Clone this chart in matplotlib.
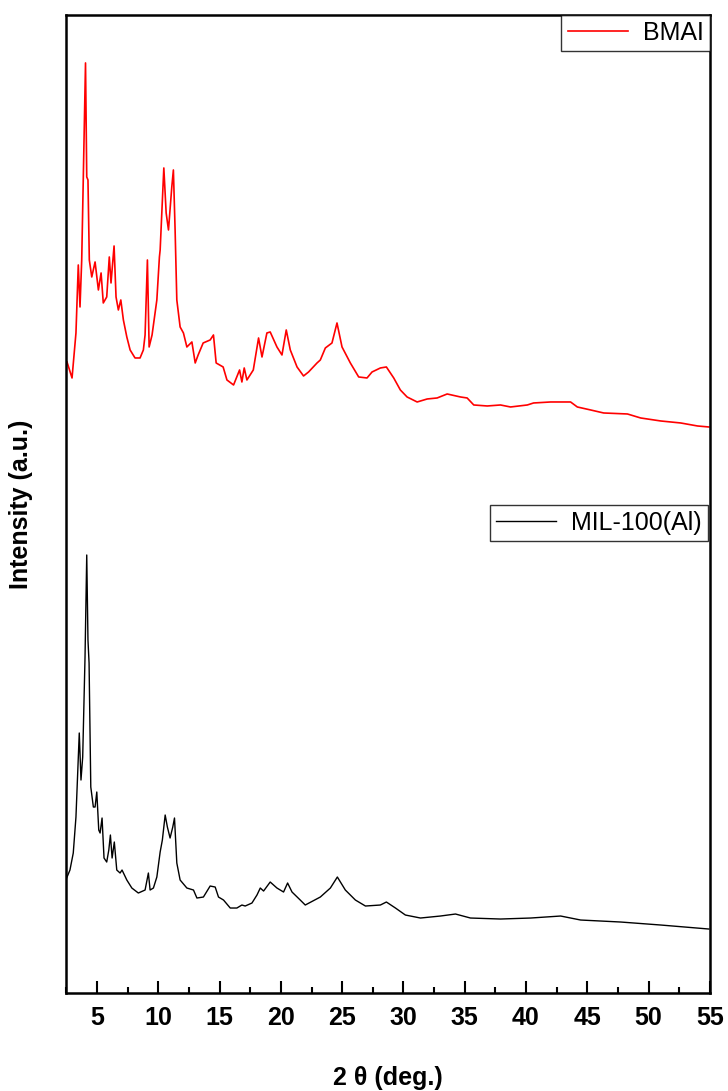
import matplotlib
matplotlib.use("Agg")
import matplotlib.pyplot as plt
from matplotlib.ticker import MultipleLocator

plt.rcParams['font.family'] = ['Liberation Sans', 'DejaVu Sans']

# BMAI pattern (stacked on top, a.u.)
bmai_2theta = [2.55, 2.96, 3.28, 3.47, 3.61, 3.75, 4.06, 4.16, 4.26, 4.37, 4.57, 4.84,
               5.11, 5.33, 5.51, 5.79, 6.00, 6.14, 6.39, 6.55, 6.74, 6.94, 7.15, 7.43,
               7.70, 8.10, 8.51, 8.78, 8.92, 9.11, 9.25, 9.49, 9.88, 10.09, 10.15, 10.45,
               10.64, 10.83, 11.10, 11.23, 11.37, 11.51, 11.78, 12.05, 12.33, 12.74, 13.01,
               13.25, 13.66, 14.23, 14.50, 14.72, 15.29, 15.60, 16.14, 16.63, 16.82, 17.01,
               17.23, 17.75, 18.18, 18.46, 18.86, 19.13, 19.68, 20.09, 20.44, 20.77, 21.32,
               21.85, 22.26, 22.95, 23.22, 23.63, 24.17, 24.58, 24.99, 25.67, 26.35, 27.03,
               27.44, 28.12, 28.61, 29.21, 29.75, 30.30, 31.12, 31.94, 32.75, 33.57, 34.66,
               35.20, 35.74, 36.84, 37.92, 38.74, 40.11, 40.62, 42.01, 42.83, 43.64, 44.19,
               45.28, 46.34, 48.28, 49.36, 51.00, 52.63, 54.00, 54.92]
bmai_int = [631, 615, 660, 728, 686, 733, 930, 816, 813, 733, 716, 731,
            703, 720, 690, 696, 736, 710, 747, 696, 683, 693, 673, 656,
            643, 635, 635, 643, 658, 733, 646, 658, 693, 736, 743, 825,
            780, 763, 806, 823, 763, 693, 666, 660, 646, 651, 630,
            638, 650, 653, 658, 630, 626, 613, 608, 623, 611, 625,
            613, 623, 655, 636, 660, 661, 646, 638, 663, 643, 626,
            617, 621, 630, 633, 645, 650, 670, 646, 630, 616, 615,
            621, 625, 626, 615, 603, 596, 591, 594, 595, 599, 596,
            595, 588, 587, 588, 586, 588, 590, 591, 591, 591, 586,
            583, 580, 579, 575, 572, 570, 567, 566]

# MIL-100(Al) pattern (bottom, a.u.)
mil_2theta = [2.52, 2.79, 3.06, 3.28, 3.55, 3.69, 3.83, 4.02, 4.16, 4.26, 4.35, 4.49,
              4.70, 4.84, 4.98, 5.14, 5.25, 5.41, 5.57, 5.79, 5.96, 6.09, 6.23, 6.41,
              6.61, 6.88, 7.04, 7.43, 7.84, 8.37, 8.92, 9.19, 9.33, 9.60, 9.88, 10.15,
              10.33, 10.56, 10.74, 10.96, 11.18, 11.32, 11.51, 11.78, 12.33, 12.87, 13.15,
              13.68, 14.23, 14.64, 14.91, 15.32, 15.87, 16.41, 16.82, 17.09, 17.64, 18.05,
              18.32, 18.59, 19.13, 19.68, 20.22, 20.55, 20.91, 21.58, 21.99, 23.22, 24.04,
              24.61, 25.26, 26.08, 26.90, 28.12, 28.61, 29.35, 30.16, 31.39, 33.02, 34.25,
              35.47, 37.92, 40.38, 42.83, 44.46, 47.73, 51.00, 54.92]
mil_int = [115, 123, 140, 176, 260, 213, 236, 336, 438, 353, 330, 206,
           186, 186, 201, 163, 160, 175, 135, 131, 143, 158, 135, 151,
           123, 120, 123, 113, 105, 100, 103, 120, 103, 105, 116, 141,
           153, 178, 166, 155, 166, 175, 130, 113, 105, 103, 95,
           96, 107, 106, 96, 93, 85, 85, 88, 87, 90, 98,
           105, 102, 111, 105, 101, 110, 101, 93, 88, 96, 105,
           116, 103, 93, 87, 88, 91, 85, 78, 75, 77, 79,
           75, 74, 75, 77, 73, 71, 68, 64]

fig = plt.figure(figsize=(7.28, 10.91), dpi=100)
ax = fig.add_axes([0.0907, 0.0898, 0.8843, 0.8965])

l1, = ax.plot(bmai_2theta, bmai_int, color='red', lw=1.2, label='BMAI')
l2, = ax.plot(mil_2theta, mil_int, color='black', lw=1.0, label='MIL-100(Al)')

ax.set_xlim(2.47, 55)
ax.set_ylim(0, 978)
ax.set_yticks([])
ax.xaxis.set_major_locator(MultipleLocator(5))
ax.xaxis.set_minor_locator(MultipleLocator(2.5))
ax.tick_params(axis='x', which='major', direction='in', length=8.5, width=1.5,
               labelsize=18, pad=9)
ax.tick_params(axis='x', which='minor', direction='in', length=4.5, width=1.5)
for lab in ax.get_xticklabels():
    lab.set_fontweight('bold')
for sp in ax.spines.values():
    sp.set_linewidth(1.8)

ax.set_xlabel('2 θ (deg.)', fontsize=18, fontweight='bold', labelpad=26)
ax.set_ylabel('Intensity (a.u.)', fontsize=18, fontweight='bold', labelpad=24)

leg_kw = dict(fontsize=18, frameon=True, fancybox=False, handlelength=2.4,
              borderaxespad=0, borderpad=0.25, handletextpad=0.6, edgecolor='black')
leg1 = ax.legend(handles=[l1], loc='upper right', bbox_to_anchor=(1.0, 1.0), **leg_kw)
leg1.get_frame().set_linewidth(1.0)
ax.add_artist(leg1)
leg2 = ax.legend(handles=[l2], loc='upper right', bbox_to_anchor=(0.997, 0.499), **leg_kw)
leg2.get_frame().set_linewidth(1.0)

fig.savefig('out.png', dpi=100)
